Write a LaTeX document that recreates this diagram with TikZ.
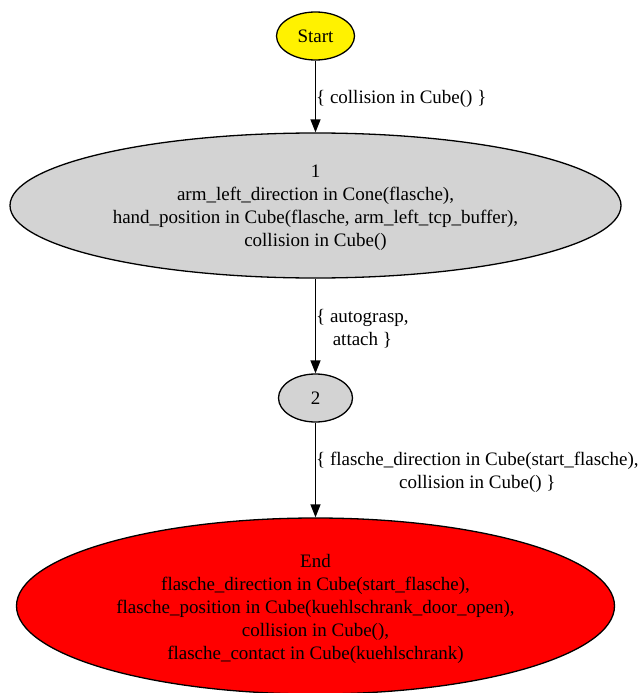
\documentclass[tikz,border=0pt]{standalone}
\usepackage{fontspec}
\setmainfont{Liberation Serif}
\usetikzlibrary{shapes.geometric,arrows.meta}
\definecolor{gvgray}{RGB}{211,211,211}
\begin{document}
\begin{tikzpicture}[x=1pt,y=-1pt,
  every node/.style={font=\fontsize{19}{23}\selectfont},
  state/.style={ellipse,draw=black,line width=1.3pt,inner sep=0pt,align=center},
  txt/.style={inner sep=0pt,align=center},
  arr/.style={line width=1.3pt,-{Triangle[length=13pt,width=10pt]}},
  elabel/.style={anchor=west,inner sep=0pt,align=center,yshift=-2.5pt}]
\useasboundingbox (0,0) rectangle (639,693);
\node[state,fill=yellow,minimum width=78pt,minimum height=48pt] (s) at (315.5,36) {Start};
\node[state,fill=gvgray,minimum width=611pt,minimum height=145pt] (n1) at (315.5,205.5) {};
\node[txt] (n1t) at (315.5,207.5) {1\\arm\_left\_direction in Cone(flasche),\\hand\_position in Cube(flasche, arm\_left\_tcp\_buffer),\\collision in Cube()};
\node[state,fill=gvgray,minimum width=74pt,minimum height=48pt] (n2) at (315.5,398) {2};
\node[state,fill=red,minimum width=598pt,minimum height=176pt] (e) at (315.5,606) {};
\node[txt] (et) at (315.5,609) {End\\flasche\_direction in Cube(start\_flasche),\\flasche\_position in Cube(kuehlschrank\_door\_open),\\collision in Cube(),\\flasche\_contact in Cube(kuehlschrank)};
\draw[arr] (s.south) -- node[elabel] {\{ collision in Cube() \}} (n1.north);
\draw[arr] (n1.south) -- node[elabel] {\{ autograsp,\\attach \}} (n2.north);
\draw[arr] (n2.south) -- node[elabel] {\{ flasche\_direction in Cube(start\_flasche),\\collision in Cube() \}} (e.north);
\end{tikzpicture}
\end{document}
